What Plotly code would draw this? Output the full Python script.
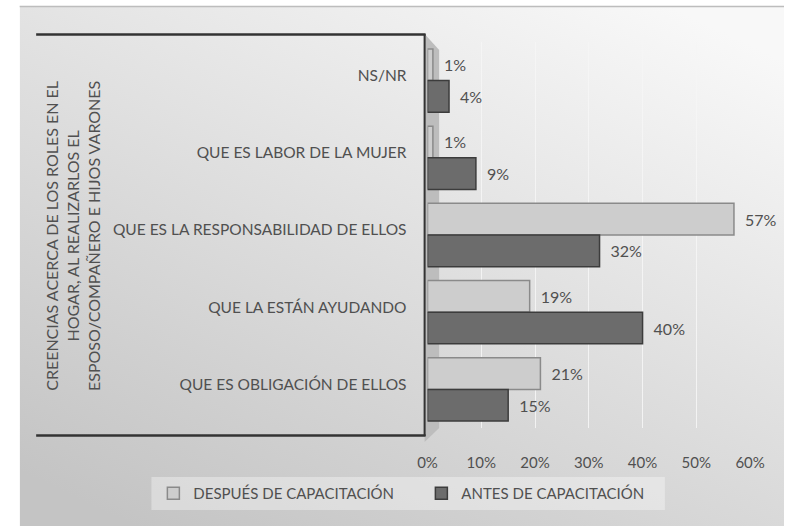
import base64
import plotly.graph_objects as go

categories = ["NS/NR", "QUE ES LABOR DE LA MUJER", "QUE ES LA RESPONSABILIDAD DE ELLOS",
              "QUE LA ESTÁN AYUDANDO", "QUE ES OBLIGACIÓN DE ELLOS"]
despues = [1, 1, 57, 19, 21]
antes = [4, 9, 32, 40, 15]
series_names = ["DESPUÉS DE CAPACITACIÓN", "ANTES DE CAPACITACIÓN"]
x_ticks = [0, 10, 20, 30, 40, 50, 60]
x_tick_labels = ["0%", "10%", "20%", "30%", "40%", "50%", "60%"]
axis_title = "CREENCIAS ACERCA DE LOS ROLES EN EL<br>HOGAR, AL REALIZARLOS EL<br>ESPOSO/COMPAÑERO E HIJOS VARONES"

W, H = 799, 529
FONT = "Lato, 'Open Sans', sans-serif"
TXT = "#505050"
PAD = "\u2002"

def px(x):
    return x / W

def py(y):
    return 1 - y / H

fig = go.Figure()
fig.add_trace(go.Bar(
    y=categories, x=despues, orientation="h", name=series_names[0],
    marker=dict(color="#cdcdcd", line=dict(color="#8a8a8a", width=1.5)),
    text=[f"{PAD}{v}%" for v in despues], textposition="outside",
    textfont=dict(family=FONT, size=16, color=TXT), cliponaxis=False,
))
fig.add_trace(go.Bar(
    y=categories, x=antes, orientation="h", name=series_names[1],
    marker=dict(color="#6c6c6c", line=dict(color="#3c3c3c", width=1.5)),
    text=[f"{PAD}{v}%" for v in antes], textposition="outside",
    textfont=dict(family=FONT, size=16, color=TXT), cliponaxis=False,
))

svg = ('<svg xmlns="http://www.w3.org/2000/svg" width="789" height="521" preserveAspectRatio="none">'
       '<defs><linearGradient id="g" x1="0.85" y1="0" x2="0.15" y2="1">'
       '<stop offset="0" stop-color="#f8f8f8"/><stop offset="1" stop-color="#c4c4c4"/>'
       '</linearGradient></defs><rect width="789" height="521" fill="url(#g)"/></svg>')
src = "data:image/svg+xml;base64," + base64.b64encode(svg.encode()).decode()

shapes = [
    dict(type="line", xref="paper", yref="paper", x0=px(10), x1=1, y0=py(6.5), y1=py(6.5),
         line=dict(color="#bdbdbd", width=1.5), layer="below"),
    dict(type="path", xref="paper", yref="paper",
         path=f"M {px(428)},{py(34)} L {px(443)},{py(50)} L {px(443)},{py(428)} L {px(428)},{py(442)} Z",
         fillcolor="#bdbdbd", line=dict(width=0), layer="below"),
    dict(type="line", xref="paper", yref="paper", x0=px(27), x1=px(429), y0=py(34.5), y1=py(34.5),
         line=dict(color="#333333", width=2.5)),
    dict(type="line", xref="paper", yref="paper", x0=px(27), x1=px(429), y0=py(435.5), y1=py(435.5),
         line=dict(color="#333333", width=2.5)),
    dict(type="line", xref="paper", yref="paper", x0=px(428), x1=px(428), y0=py(34), y1=py(436),
         line=dict(color="#333333", width=2)),
    dict(type="rect", xref="paper", yref="paper", x0=px(146), x1=px(676), y0=py(477), y1=py(510),
         fillcolor="rgba(255,255,255,0.35)", line=dict(width=0), layer="below"),
]

fig.update_layout(
    width=W, height=H,
    margin=dict(l=0, r=0, t=0, b=0),
    paper_bgcolor="white", plot_bgcolor="rgba(0,0,0,0)",
    barmode="group", bargap=0.18, bargroupgap=0,
    font=dict(family=FONT, size=15, color=TXT),
    images=[dict(source=src, xref="paper", yref="paper", x=px(10), y=py(6), sizex=px(789),
                 sizey=520 / H, xanchor="left", yanchor="top", sizing="stretch", layer="below")],
    shapes=shapes,
    xaxis=dict(domain=[px(431), px(764)], range=[0, 60], tickvals=x_ticks, ticktext=x_tick_labels,
               showgrid=True, gridcolor="rgba(245,245,245,0.9)", gridwidth=1, zeroline=False,
               showline=False, ticks="", ticklabelstandoff=24,
               tickfont=dict(family=FONT, size=15, color=TXT), fixedrange=True),
    yaxis=dict(domain=[py(428), py(42)], autorange="reversed", type="category",
               categoryorder="array", categoryarray=categories, showgrid=False, zeroline=False,
               showline=False, ticks="", ticklabelstandoff=20, ticklabelshift=5,
               tickfont=dict(family=FONT, size=15.5, color=TXT)),
    legend=dict(orientation="h", x=px(148), y=py(493.5), xanchor="left", yanchor="middle",
                bgcolor="rgba(0,0,0,0)", font=dict(family=FONT, size=15, color=TXT),
                itemwidth=30, traceorder="normal", entrywidth=223, entrywidthmode="pixels"),
    annotations=[dict(text=axis_title, xref="paper", yref="paper", x=px(64), y=py(236),
                      showarrow=False, textangle=-90, font=dict(family=FONT, size=16, color=TXT),
                      align="center", xanchor="center", yanchor="middle")],
    showlegend=True,
)

fig.write_html("out.html", config={"displayModeBar": False},
               post_script="document.body.style.margin='0';document.body.style.padding='0';"
                           "document.documentElement.style.overflow='hidden';")
